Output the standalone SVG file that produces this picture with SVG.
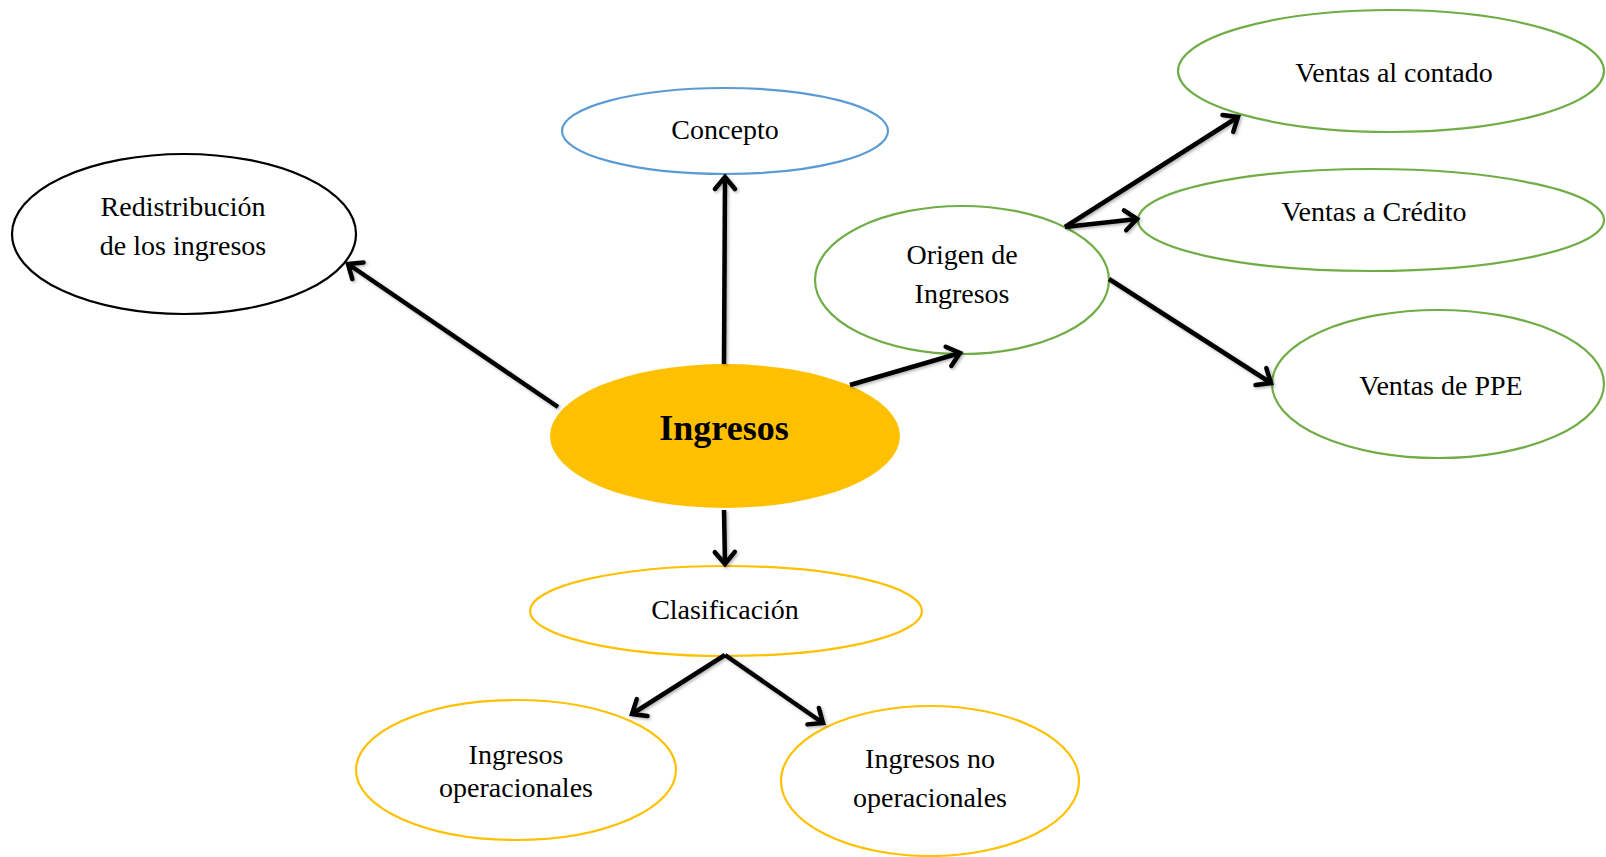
<svg xmlns="http://www.w3.org/2000/svg" width="1606" height="857" viewBox="0 0 1606 857">
  <style>
    .lbl { font-family: "Liberation Serif", "Times New Roman", serif; font-size: 28px; fill: #000; text-anchor: middle; }
    .main { font-family: "Liberation Serif", "Times New Roman", serif; font-size: 36px; font-weight: bold; fill: #000; text-anchor: middle; }
    .node { fill: #fff; stroke-width: 2.2; }
    .black { stroke: #000; }
    .blue { stroke: #5B9BD5; }
    .green { stroke: #70AD47; }
    .gold { stroke: #FFC000; }
    .conn line { stroke: #000; stroke-width: 4.5; marker-end: url(#chev); }
  </style>
  <defs>
    <marker id="chev" markerUnits="userSpaceOnUse" markerWidth="30" markerHeight="30" refX="18" refY="12" orient="auto" viewBox="0 0 30 24">
      <path d="M6,2 L18,12 L6,22" fill="none" stroke="#000" stroke-width="4.5" stroke-linecap="round" stroke-linejoin="miter"/>
    </marker>
    <filter id="soft" x="-20%" y="-20%" width="140%" height="140%">
      <feDropShadow dx="1.5" dy="1.5" stdDeviation="1.5" flood-color="#000" flood-opacity="0.3"/>
    </filter>
  </defs>

  <rect width="1606" height="857" fill="#fff"/>

  <g id="redistribucion">
    <ellipse class="node black" cx="184" cy="234" rx="172" ry="80"/>
    <text class="lbl" x="183" y="216">Redistribución</text>
    <text class="lbl" x="183" y="255">de los ingresos</text>
  </g>

  <g id="concepto">
    <ellipse class="node blue" cx="725" cy="131" rx="163" ry="43"/>
    <text class="lbl" x="725" y="139">Concepto</text>
  </g>

  <g id="ingresos">
    <ellipse cx="725" cy="436" rx="175" ry="72" fill="#FFC000"/>
    <text class="main" x="724" y="440">Ingresos</text>
  </g>

  <g id="origen">
    <ellipse class="node green" cx="962" cy="280" rx="147" ry="74"/>
    <text class="lbl" x="962" y="264">Origen de</text>
    <text class="lbl" x="962" y="303">Ingresos</text>
  </g>

  <g id="ventas-contado">
    <ellipse class="node green" cx="1391" cy="71" rx="213" ry="61"/>
    <text class="lbl" x="1394" y="82">Ventas al contado</text>
  </g>

  <g id="ventas-credito">
    <ellipse class="node green" cx="1371" cy="220" rx="233" ry="51"/>
    <text class="lbl" x="1374" y="221">Ventas a Crédito</text>
  </g>

  <g id="ventas-ppe">
    <ellipse class="node green" cx="1438" cy="384" rx="166" ry="74"/>
    <text class="lbl" x="1441" y="395">Ventas de PPE</text>
  </g>

  <g id="clasificacion">
    <ellipse class="node gold" cx="726" cy="611" rx="196" ry="45"/>
    <text class="lbl" x="725" y="619">Clasificación</text>
  </g>

  <g id="ingresos-operacionales">
    <ellipse class="node gold" cx="516" cy="770" rx="160" ry="70"/>
    <text class="lbl" x="516" y="764">Ingresos</text>
    <text class="lbl" x="516" y="797">operacionales</text>
  </g>

  <g id="ingresos-no-operacionales">
    <ellipse class="node gold" cx="930" cy="781" rx="149" ry="75"/>
    <text class="lbl" x="930" y="768">Ingresos no</text>
    <text class="lbl" x="930" y="807">operacionales</text>
  </g>

  <g id="connectors" class="conn" filter="url(#soft)">
    <line x1="558" y1="407" x2="348" y2="264"/>
    <line x1="724" y1="364" x2="725" y2="177"/>
    <line x1="850" y1="385" x2="960" y2="353"/>
    <line x1="1065" y1="227" x2="1238" y2="117"/>
    <line x1="1065" y1="227" x2="1137" y2="219"/>
    <line x1="1109" y1="279" x2="1271" y2="383"/>
    <line x1="724" y1="510" x2="725" y2="564"/>
    <line x1="725" y1="655" x2="632" y2="714"/>
    <line x1="725" y1="655" x2="823" y2="723"/>
  </g>
</svg>
